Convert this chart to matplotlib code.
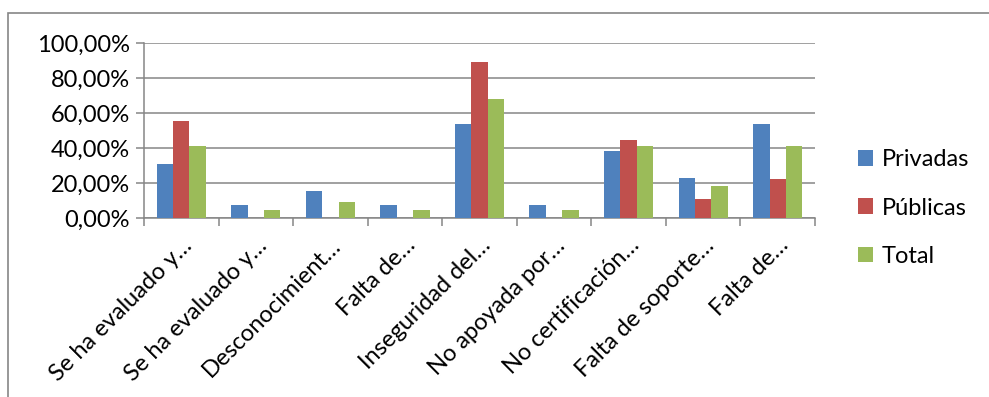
import numpy as np
import matplotlib
matplotlib.use("Agg")
import matplotlib.pyplot as plt
from matplotlib.patches import Rectangle
from matplotlib.ticker import FuncFormatter

plt.rcParams['font.family'] = ['Lato', 'DejaVu Sans']

# categories (truncated as in the original chart)
categories = ["Se ha evaluado y…", "Se ha evaluado y…", "Desconocimient…",
              "Falta de…", "Inseguridad del…", "No apoyada por…",
              "No certificación…", "Falta de soporte…", "Falta de…"]

# percentages per group
privadas = [30.77, 7.69, 15.38, 7.69, 53.85, 7.69, 38.46, 23.08, 53.85]
publicas = [55.56, 0.0, 0.0, 0.0, 88.89, 0.0, 44.44, 11.11, 22.22]
total = [40.91, 4.55, 9.09, 4.55, 68.18, 4.55, 40.91, 18.18, 40.91]

series_names = ["Privadas", "Públicas", "Total"]
colors = ["#4F81BD", "#C0504D", "#9BBB59"]

fig = plt.figure(figsize=(9.89, 3.97), dpi=100)
ax = fig.add_axes([144/989, 1-218/397, (815-144)/989, (218-43)/397])

# outer chart frame
fig.patches.append(Rectangle((8/989, -0.1), 1.2, 1-13/397+0.1,
                             transform=fig.transFigure, fill=False,
                             edgecolor="#868686", lw=1.2))

x = np.arange(len(categories))
w = 0.22
for i, (vals, name, c) in enumerate(zip([privadas, publicas, total], series_names, colors)):
    ax.bar(x + (i - 1) * w, vals, width=w, color=c, label=name, zorder=3)

ax.set_xlim(-0.5, len(categories) - 0.5)
ax.set_ylim(0, 100)
ax.set_yticks(np.arange(0, 101, 20))
ax.yaxis.set_major_formatter(FuncFormatter(lambda v, p: f"{v:.2f}%".replace(".", ",")))
ax.grid(axis="y", color="#868686", lw=1.1, zorder=0)

# category boundary ticks on the x axis
ax.set_xticks(np.arange(-0.5, len(categories) + 0.5, 1))
ax.set_xticklabels([])
ax.set_xticks(x, minor=True)
ax.set_xticklabels(categories, minor=True, rotation=45, ha="right", va="top",
                   rotation_mode="anchor", fontsize=17)
ax.tick_params(axis="x", which="minor", length=0, pad=12)
ax.tick_params(axis="x", which="major", length=6, color="#868686", width=1.1)
ax.tick_params(axis="y", length=6, color="#868686", width=1.1, labelsize=17, pad=4)

for s in ["top", "right"]:
    ax.spines[s].set_visible(False)
for s in ["left", "bottom"]:
    ax.spines[s].set_color("#868686")
    ax.spines[s].set_linewidth(1.1)

ax.legend(loc="center left", bbox_to_anchor=(1.05, 0.057), frameon=False,
          fontsize=17, handlelength=0.65, handleheight=0.65, handletextpad=0.35,
          labelspacing=1.15, borderaxespad=0)

fig.savefig("out.png", dpi=100)
